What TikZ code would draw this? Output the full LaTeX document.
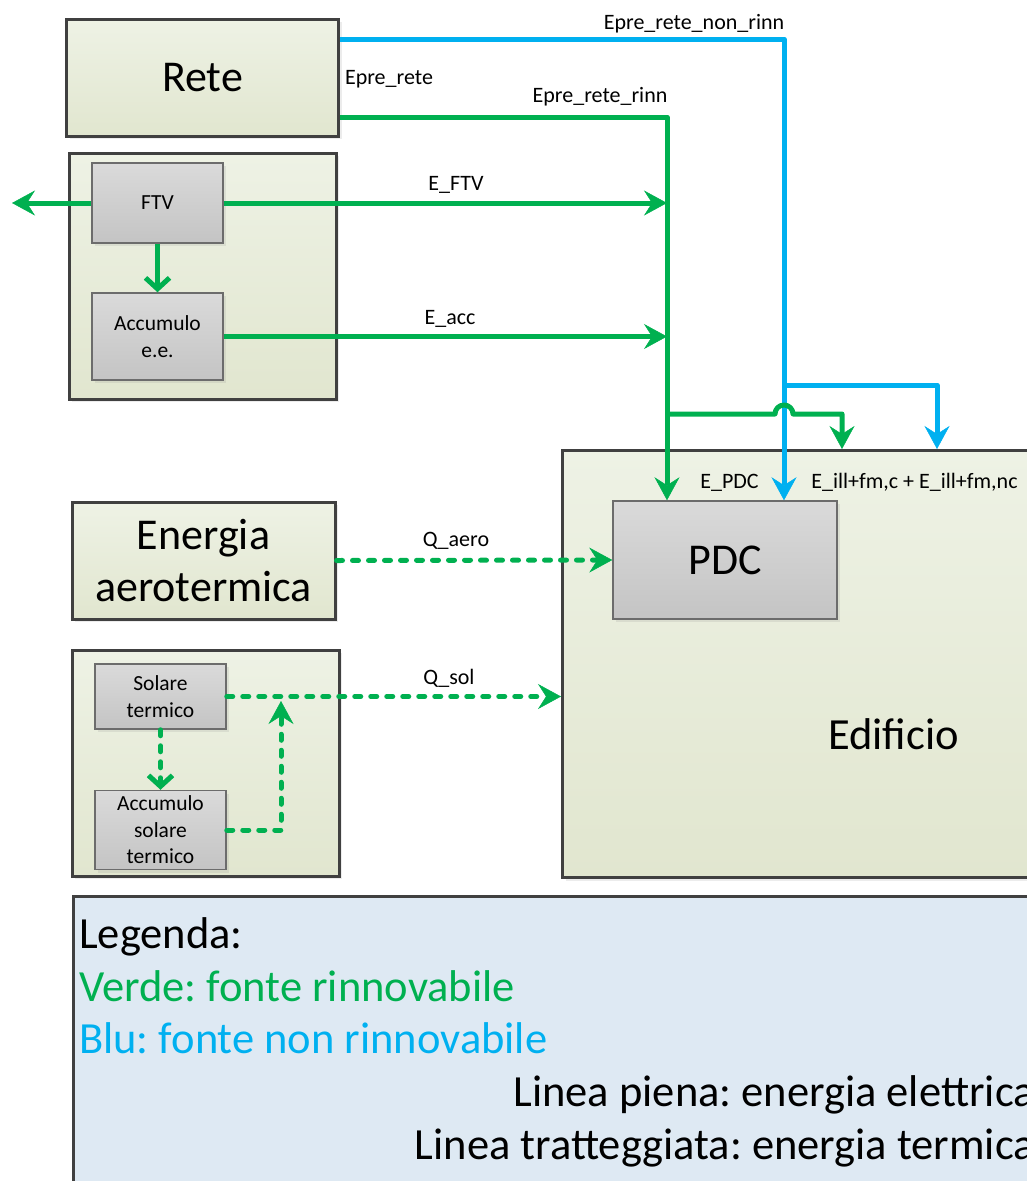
\documentclass[tikz,border=0pt]{standalone}
\usepackage{fontspec}
\setmainfont{Carlito}
\frenchspacing
\usetikzlibrary{arrows.meta,shadows}
\definecolor{verde}{HTML}{00B050}
\definecolor{blu}{HTML}{00B0F0}
\definecolor{bordo}{HTML}{404040}
\definecolor{cartatop}{HTML}{EEF2E5}
\definecolor{cartabot}{HTML}{E1E6CF}
\definecolor{grigiotop}{HTML}{DADADA}
\definecolor{grigiobot}{HTML}{C4C4C4}
\definecolor{legfill}{HTML}{DEE9F3}
\tikzset{
         box/.style={draw=bordo,line width=3pt,inner sep=0pt,top color=cartatop,bottom color=cartabot,
                     drop shadow={opacity=0.15,shadow xshift=3pt,shadow yshift=-3pt},
                     font=\fontsize{44}{52}\selectfont,align=center},
         subbox/.style={draw=gray!85!black,line width=1.5pt,inner sep=0pt,top color=grigiotop,bottom color=grigiobot,
                        drop shadow={opacity=0.15,shadow xshift=3pt,shadow yshift=-3pt},
                        font=\fontsize{21.5}{26.5}\selectfont,align=center,minimum width=131},
         legbox/.style={draw=bordo,line width=3pt,fill=legfill,anchor=north west},
         bigtxt/.style={font=\fontsize{44.5}{52}\selectfont,inner sep=0pt},
         lbl/.style={font=\fontsize{22}{26}\selectfont,inner sep=0pt,anchor=base},
         gline/.style={draw=verde,line width=5pt,line join=round},
         bline/.style={draw=blu,line width=5pt,line join=round},
         dline/.style={gline,line cap=round,dash pattern=on 6pt off 10pt},
         tip/.style={-{Stealth[length=23pt,width=25pt,inset=8pt,line width=0.5pt]}},
         barb/.style={-{Straight Barb[length=11pt,width=24pt]}}
        }
\begin{document}
\begin{tikzpicture}[x=1pt,y=-1pt]
\useasboundingbox (0,0) rectangle (1026,1181); % page
\node[box,minimum width=272,minimum height=117] (rete) at (202.5,77.5) {Rete}; % Rete
\node[box,minimum width=267,minimum height=246] (ftvgrp) at (202.5,276) {}; % FTV group
\node[subbox,minimum height=80] (ftv) at (157.5,203) {FTV}; % FTV
\node[subbox,minimum height=87] (acc) at (157.5,336.5) {Accumulo\\e.e.}; % Accumulo e.e.
\node[box,minimum width=263,minimum height=117] (aero) at (203.5,560.5) {Energia\\aerotermica}; % aerotermica
\node[box,minimum width=267,minimum height=226] (solgrp) at (205.5,763) {}; % solare group
\node[subbox,minimum height=65] (sol) at (160.5,696.5) {Solare\\termico}; % Solare termico
\node[subbox,minimum height=79] (accs) at (160.5,830) {Accumulo\\solare\\termico}; % Accumulo solare
\node[box,anchor=north west,minimum width=520,minimum height=427] (edif) at (561,449) {}; % Edificio box
\node[bigtxt,anchor=base] (edtxt) at (893.5,749) {Edificio}; % Edificio label
\node[subbox,minimum width=224,minimum height=118,font=\fontsize{44}{52}\selectfont] (pdc) at (725,560) {PDC}; % PDC
\node[legbox,minimum width=1000,minimum height=350] (leg) at (72,895) {}; % Legenda box
\coordinate (bus) at (667,117); % green bus
\coordinate (jb) at (784,385); % blue branch
\coordinate (jg) at (667,414); % green branch
\coordinate (hop) at (784,414); % hop
\coordinate (eg) at (842,414); % green into Edificio
\coordinate (eb) at (937,385); % blue into Edificio
\coordinate (fuori) at (12,203); % FTV out
\coordinate (jsol) at (281,701); % Q_sol junction
\draw[bline,tip] ([yshift=38.5pt]rete.east) -| ([xshift=59pt]pdc.north); % Epre_rete_non_rinn
\draw[gline,tip] ([yshift=-39.5pt]rete.east) -| ([xshift=-58pt]pdc.north); % Epre_rete_rinn
\draw[gline,tip] (ftv.east) -- (ftv.east -| bus); % E_FTV
\draw[gline,tip] (acc.east) -- (acc.east -| bus); % E_acc
\draw[gline,tip] (jg) -- ([xshift=-9pt]hop) arc[start angle=180,end angle=360,radius=9] -| (eg |- edif.north); % green to Edificio
\draw[bline,tip] (jb) -| (eb |- edif.north); % blue to Edificio
\draw[gline,tip] (ftv.west) -- (fuori); % FTV out
\draw[gline,barb] (ftv.south) -- (acc.north); % FTV to Accumulo
\draw[dline,tip] (aero.east) -- (pdc.west); % Q_aero
\draw[dline,tip] (sol.east) -- (sol.east -| edif.west); % Q_sol
\draw[dline,barb] (sol.south) -- (accs.north); % Solare to Accumulo
\draw[dline,tip] (accs.east) -| (jsol); % Accumulo to Q_sol
\node[lbl] (lnonrinn) at (694,29) {Epre\_rete\_non\_rinn}; % label
\node[lbl] (lrete) at (389,84) {Epre\_rete}; % label
\node[lbl] (lrinn) at (600,102) {Epre\_rete\_rinn}; % label
\node[lbl] (lftv) at (456,190) {E\_FTV}; % label
\node[lbl] (lacc) at (450,324) {E\_acc}; % label
\node[lbl] (lpdc) at (729.5,488) {E\_PDC}; % label
\node[lbl] (lill) at (914.5,488) {E\_ill+fm,c + E\_ill+fm,nc}; % label
\node[lbl] (laero) at (456,546) {Q\_aero}; % label
\node[lbl] (lsol) at (449,684) {Q\_sol}; % label
\node[bigtxt,anchor=base west] (leg1) at (79,948) {Legenda:}; % legend
\node[bigtxt,anchor=base west,text=verde] (leg2) at (79,1001) {Verde: fonte rinnovabile}; % legend
\node[bigtxt,anchor=base west,text=blu] (leg3) at (79,1053) {Blu: fonte non rinnovabile}; % legend
\node[bigtxt,anchor=base east] (leg4) at (1035,1106) {Linea piena: energia elettrica}; % legend
\node[bigtxt,anchor=base east] (leg5) at (1035,1159) {Linea tratteggiata: energia termica}; % legend
\end{tikzpicture}
\end{document}
